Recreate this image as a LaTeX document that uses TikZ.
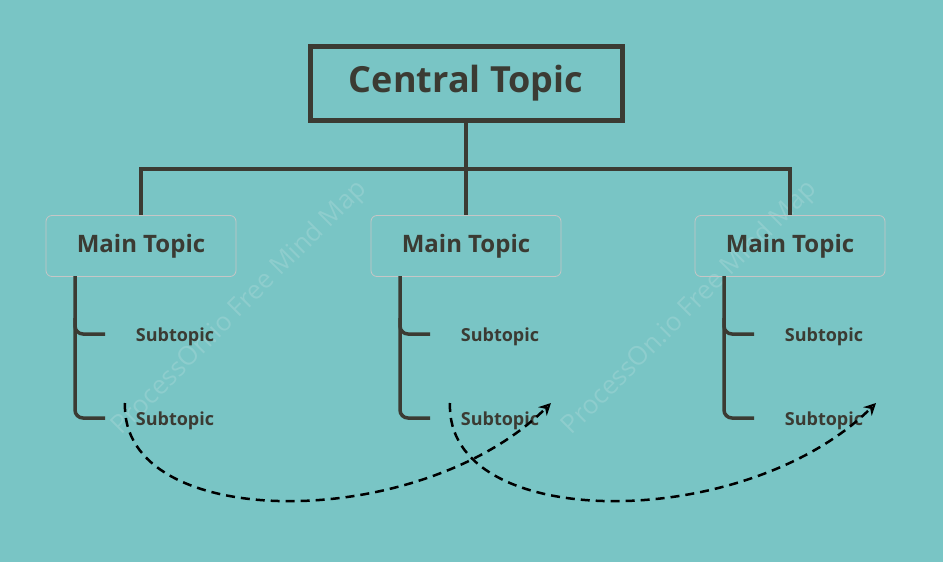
\documentclass[tikz,border=0pt]{standalone}
\usepackage{fontspec}
\setmainfont{Open Sans}
\usetikzlibrary{arrows.meta}
\definecolor{bg}{HTML}{79C5C5}
\definecolor{ink}{HTML}{3B3B33}
\definecolor{wm}{HTML}{8ECDCD}
\begin{document}
\begin{tikzpicture}[x=1pt,y=-1pt,
  line/.style={draw=ink,line width=3.5pt},
  main/.style={draw=gray!45,rounded corners=6pt,line width=0.8pt,minimum width=190pt,minimum height=61pt,text=ink,font=\bfseries\fontsize{24}{28}\selectfont},
  sub/.style={text=ink,font=\bfseries\fontsize{18}{22}\selectfont},
  dasharrow/.style={draw=black,line width=2.5pt,dash pattern=on 9pt off 6pt,-{Stealth[length=12pt,width=12pt,open]}},
  wmk/.style={text=wm,rotate=45,font=\fontsize{26}{30}\selectfont}]
\fill[bg] (0,0) rectangle (943,562);
\useasboundingbox (0,0) rectangle (943,562);
\node[wmk] (w1) at (240,308) {ProcessOn.io Free Mind Map};
\node[wmk] (w2) at (690,308) {ProcessOn.io Free Mind Map};
\node[draw=ink,line width=5pt,minimum width=312pt,minimum height=74pt,text=ink,font=\bfseries\fontsize{36}{40}\selectfont] (c) at (466,83) {\raisebox{-4pt}{Central Topic}};
\node[main] (m1) at (141,246) {\raisebox{-3pt}{Main Topic}};
\node[main] (m2) at (466,246) {\raisebox{-3pt}{Main Topic}};
\node[main] (m3) at (790,246) {\raisebox{-3pt}{Main Topic}};
\coordinate (j) at (466,169);
\draw[line] (c.south) -- (j);
\draw[line] (m1.north) -- (141,169) -- (790,169) -- (m3.north);
\draw[line] (j) -- (m2.north);
\foreach \i/\x in {1/75,2/400,3/724}{
  \node[sub] (s\i a) at (\x+100,337) {Subtopic};
  \node[sub] (s\i b) at (\x+100,421) {Subtopic};
  \draw[line,rounded corners=8pt] (\x,276) -- (\x,418) -- (\x+30,418);
  \draw[line,rounded corners=8pt] (\x,318) -- (\x,334) -- (\x+30,334);
}
\coordinate (a1) at (125,403); \coordinate (b1) at (551,403);
\coordinate (a2) at (450,403); \coordinate (b2) at (876,403);
\draw[dasharrow] (a1) .. controls (120,533) and (420,533) .. (b1);
\draw[dasharrow] (a2) .. controls (445,533) and (745,533) .. (b2);
\end{tikzpicture}
\end{document}
